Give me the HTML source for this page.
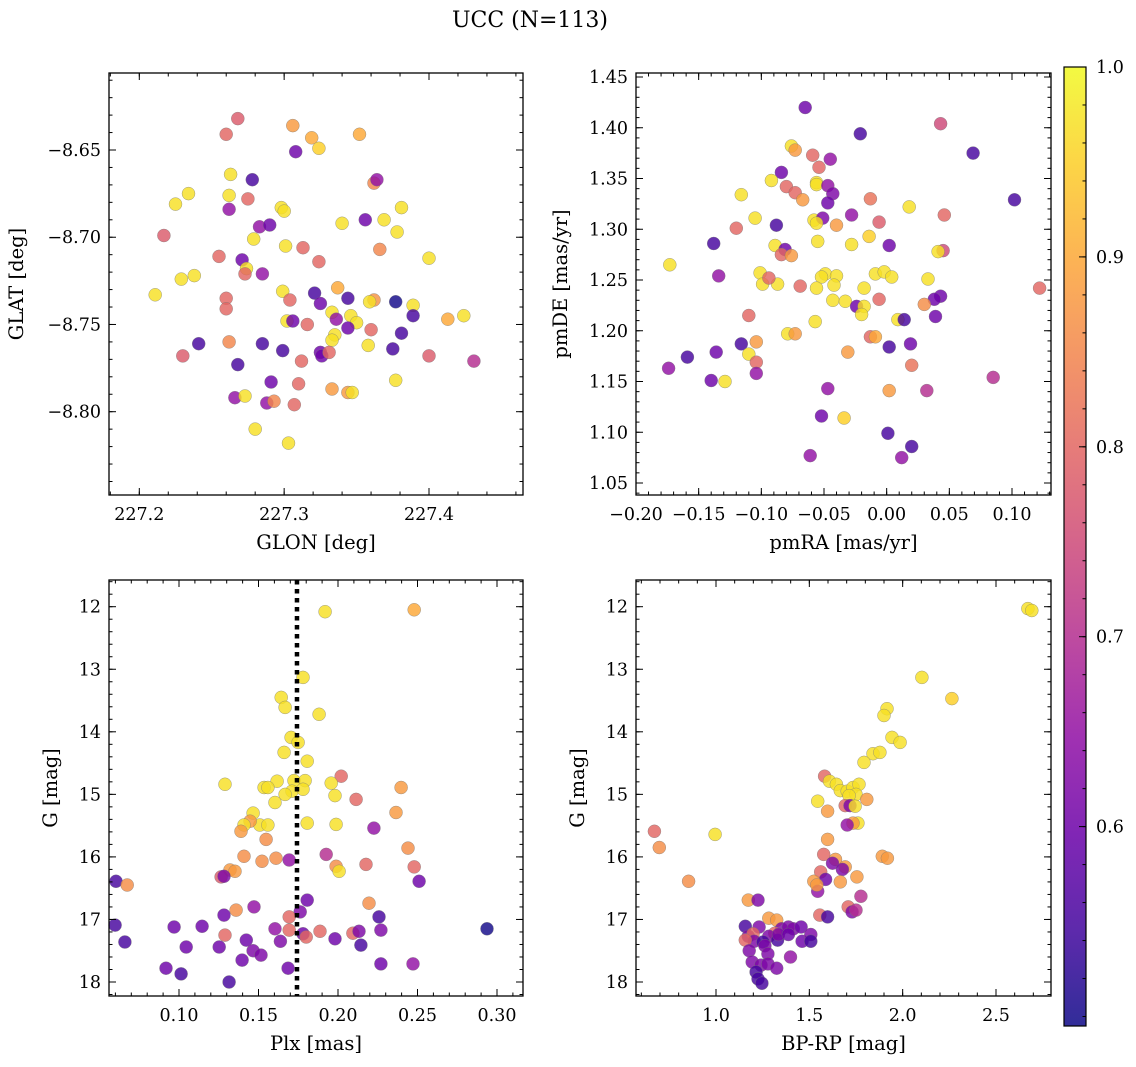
<!DOCTYPE html>
<html><head><meta charset="utf-8">
<style>
html,body{margin:0;padding:0;background:#fff;}
svg{display:block;font-family:"DejaVu Serif","Liberation Serif",serif;}
</style></head>
<body>
<svg id="fig" width="1136" height="1067" viewBox="0 0 1136 1067" xmlns="http://www.w3.org/2000/svg">
<defs>
<linearGradient id="plasma" x1="0" y1="1" x2="0" y2="0"></linearGradient>
</defs>
<text x="530" y="27" text-anchor="middle" font-size="22">UCC (N=113)</text>
<g id="root"></g>
</svg>
<script>
// ---------- DATA ----------
const glon = [227.268,227.260,227.306,227.319,227.352,227.324,227.308,227.263,227.278,227.234,227.225,227.262,227.362,227.364,227.262,227.298,227.300,227.275,227.283,227.290,227.356,227.340,227.369,227.381,227.378,227.217,227.279,227.301,227.313,227.366,227.400,227.255,227.271,227.274,227.273,227.285,227.324,227.238,227.229,227.211,227.260,227.299,227.304,227.321,227.337,227.344,227.362,227.359,227.377,227.389,227.260,227.302,227.306,227.316,227.325,227.333,227.336,227.346,227.350,227.413,227.424,227.389,227.335,227.344,227.360,227.381,227.262,227.241,227.285,227.333,227.358,227.375,227.230,227.299,227.325,227.326,227.331,227.312,227.400,227.431,227.268,227.291,227.310,227.377,227.333,227.344,227.347,227.266,227.273,227.288,227.293,227.307,227.280,227.303];
const glat = [-8.632,-8.641,-8.636,-8.643,-8.641,-8.649,-8.651,-8.664,-8.667,-8.675,-8.681,-8.676,-8.669,-8.667,-8.684,-8.683,-8.685,-8.678,-8.694,-8.693,-8.690,-8.692,-8.690,-8.683,-8.697,-8.699,-8.701,-8.705,-8.706,-8.707,-8.712,-8.711,-8.713,-8.718,-8.721,-8.721,-8.714,-8.722,-8.724,-8.733,-8.735,-8.731,-8.736,-8.732,-8.729,-8.735,-8.736,-8.737,-8.737,-8.739,-8.741,-8.748,-8.748,-8.750,-8.738,-8.743,-8.747,-8.745,-8.749,-8.747,-8.745,-8.745,-8.756,-8.752,-8.753,-8.755,-8.760,-8.761,-8.761,-8.759,-8.762,-8.764,-8.768,-8.765,-8.766,-8.768,-8.766,-8.771,-8.768,-8.771,-8.773,-8.783,-8.784,-8.782,-8.787,-8.789,-8.789,-8.792,-8.791,-8.795,-8.794,-8.796,-8.810,-8.818];
const prob1 = [0.78,0.80,0.88,0.90,0.90,0.95,0.60,0.97,0.55,0.97,0.97,0.97,0.85,0.65,0.65,0.97,0.97,0.80,0.65,0.60,0.60,0.97,0.97,0.97,0.97,0.78,0.97,0.97,0.80,0.85,0.97,0.80,0.60,0.97,0.80,0.65,0.80,0.97,0.97,0.97,0.80,0.97,0.80,0.55,0.90,0.55,0.87,0.97,0.50,0.97,0.80,0.97,0.60,0.80,0.60,0.97,0.65,0.97,0.97,0.90,0.97,0.55,0.97,0.60,0.80,0.55,0.85,0.55,0.55,0.97,0.97,0.55,0.78,0.55,0.60,0.60,0.80,0.80,0.78,0.70,0.55,0.60,0.80,0.97,0.88,0.88,0.97,0.65,0.97,0.65,0.85,0.80,0.97,0.97];

const pmra = [-0.065,-0.021,0.069,0.043,-0.076,-0.073,-0.059,-0.084,-0.054,-0.045,-0.092,-0.080,-0.116,-0.073,-0.056,-0.056,-0.047,-0.043,-0.067,-0.047,-0.013,0.102,0.018,-0.028,0.046,-0.058,-0.105,-0.051,-0.056,-0.088,-0.006,-0.120,-0.040,-0.014,-0.055,-0.028,-0.138,-0.089,-0.081,0.002,0.045,0.041,-0.084,-0.076,-0.009,-0.002,0.004,-0.101,-0.049,-0.052,-0.040,-0.173,-0.134,-0.069,-0.099,-0.087,-0.094,-0.056,-0.042,0.033,0.122,-0.018,-0.043,-0.033,-0.006,0.043,0.038,0.030,-0.024,-0.018,-0.020,-0.110,0.039,-0.057,0.009,0.014,-0.013,-0.009,-0.079,-0.073,-0.104,-0.116,0.019,0.002,-0.031,-0.110,-0.136,-0.159,-0.104,0.020,-0.104,-0.174,-0.129,-0.140,0.085,-0.047,0.002,0.032,-0.052,-0.034,0.001,0.020,-0.061,0.012];
const pmde = [1.420,1.394,1.375,1.404,1.382,1.378,1.373,1.356,1.361,1.369,1.348,1.342,1.334,1.336,1.346,1.344,1.343,1.335,1.329,1.326,1.330,1.329,1.322,1.314,1.314,1.309,1.311,1.311,1.306,1.304,1.307,1.301,1.304,1.293,1.288,1.285,1.286,1.284,1.280,1.284,1.279,1.278,1.275,1.274,1.256,1.258,1.253,1.257,1.256,1.253,1.254,1.265,1.254,1.244,1.246,1.246,1.252,1.242,1.245,1.251,1.242,1.242,1.230,1.229,1.231,1.234,1.231,1.226,1.224,1.224,1.216,1.215,1.214,1.209,1.211,1.211,1.194,1.194,1.197,1.197,1.189,1.187,1.187,1.184,1.179,1.177,1.179,1.174,1.169,1.166,1.158,1.163,1.150,1.151,1.154,1.143,1.141,1.141,1.116,1.114,1.099,1.086,1.077,1.075];
const prob2 = [0.60,0.55,0.55,0.75,0.97,0.88,0.80,0.60,0.80,0.65,0.97,0.80,0.97,0.80,0.97,0.97,0.65,0.62,0.88,0.60,0.82,0.55,0.97,0.65,0.80,0.97,0.97,0.62,0.97,0.55,0.78,0.80,0.88,0.95,0.97,0.97,0.55,0.97,0.60,0.60,0.75,0.97,0.80,0.88,0.97,0.97,0.97,0.97,0.97,0.97,0.97,0.97,0.65,0.80,0.97,0.97,0.80,0.97,0.97,0.97,0.80,0.97,0.97,0.97,0.80,0.60,0.60,0.86,0.60,0.97,0.97,0.80,0.60,0.97,0.97,0.55,0.80,0.90,0.97,0.88,0.88,0.55,0.60,0.55,0.88,0.97,0.60,0.55,0.80,0.82,0.65,0.65,0.97,0.60,0.70,0.65,0.88,0.70,0.60,0.95,0.55,0.55,0.65,0.65];

const plx = [0.1919,0.2479,0.1780,0.1643,0.1667,0.1881,0.1705,0.1749,0.1661,0.1806,0.2020,0.1289,0.1617,0.1723,0.1793,0.1957,0.2397,0.1535,0.1559,0.1711,0.1780,0.1981,0.2114,0.1667,0.1604,0.1466,0.2365,0.1509,0.1559,0.1447,0.1409,0.1390,0.1806,0.1988,0.2226,0.1548,0.1409,0.1926,0.1522,0.1610,0.2176,0.2440,0.1693,0.1321,0.1352,0.0604,0.0674,0.1265,0.1283,0.1988,0.2007,0.2479,0.2510,0.1359,0.1806,0.2195,0.1472,0.0598,0.1283,0.1762,0.1693,0.2258,0.0969,0.1145,0.1289,0.1604,0.1693,0.1780,0.1887,0.2094,0.2132,0.2270,0.2937,0.1981,0.1638,0.1423,0.1800,0.0660,0.1253,0.1045,0.1466,0.1516,0.2144,0.1397,0.2270,0.2472,0.0918,0.1013,0.1686,0.1315];
const gmag3 = [12.08,12.05,13.13,13.45,13.61,13.72,14.09,14.17,14.33,14.47,14.71,14.84,14.79,14.78,14.78,14.82,14.89,14.89,14.89,14.95,14.92,15.02,15.08,15.00,15.13,15.30,15.29,15.49,15.49,15.43,15.49,15.59,15.46,15.48,15.54,15.72,15.99,15.96,16.07,16.02,16.12,15.86,16.05,16.21,16.23,16.39,16.45,16.32,16.31,16.15,16.23,16.16,16.39,16.85,16.69,16.74,16.80,17.09,16.93,16.88,16.96,16.96,17.12,17.11,17.25,17.15,17.17,17.23,17.19,17.22,17.19,17.17,17.15,17.31,17.35,17.33,17.28,17.36,17.44,17.44,17.50,17.57,17.41,17.65,17.71,17.71,17.78,17.87,17.78,18.00];
const prob3 = [0.97,0.90,0.97,0.97,0.97,0.97,0.97,0.97,0.97,0.97,0.80,0.97,0.97,0.97,0.97,0.97,0.88,0.97,0.97,0.97,0.97,0.97,0.80,0.97,0.97,0.97,0.88,0.97,0.97,0.88,0.97,0.88,0.97,0.97,0.65,0.86,0.86,0.70,0.86,0.86,0.80,0.86,0.65,0.88,0.88,0.55,0.86,0.78,0.62,0.86,0.97,0.80,0.60,0.86,0.60,0.86,0.65,0.55,0.60,0.62,0.80,0.55,0.60,0.60,0.80,0.65,0.80,0.60,0.80,0.80,0.62,0.62,0.50,0.60,0.62,0.60,0.80,0.55,0.60,0.60,0.62,0.62,0.55,0.60,0.60,0.65,0.60,0.55,0.60,0.55];

const bprp = [2.671,2.692,2.103,2.264,1.916,1.900,1.943,1.986,1.841,1.878,1.793,0.995,0.670,0.696,0.853,1.582,1.608,1.645,1.666,1.703,1.734,1.766,1.750,1.713,1.808,1.692,1.718,1.745,1.760,1.734,1.703,1.545,1.598,1.598,1.577,1.891,1.918,1.640,1.624,1.692,1.677,1.561,1.587,1.755,1.666,1.524,1.545,1.540,1.776,1.708,1.729,1.750,1.556,1.598,1.173,1.225,1.157,1.231,1.283,1.325,1.351,1.388,1.414,1.456,1.315,1.283,1.330,1.173,1.199,1.204,1.252,1.157,1.335,1.388,1.461,1.508,1.508,1.178,1.262,1.278,1.399,1.194,1.241,1.278,1.325,1.215,1.225,1.246];
const gmag4 = [12.03,12.06,13.13,13.47,13.63,13.74,14.09,14.17,14.35,14.33,14.49,15.64,15.59,15.85,16.39,14.71,14.79,14.84,14.94,14.95,14.89,14.84,15.00,15.02,15.08,15.18,15.18,15.19,15.46,15.46,15.49,15.11,15.27,15.72,15.96,15.99,16.02,16.04,16.10,16.16,16.20,16.24,16.36,16.32,16.40,16.39,16.55,16.45,16.63,16.80,16.88,16.85,16.93,16.96,16.69,16.69,17.11,17.12,16.98,17.01,17.15,17.12,17.15,17.12,17.22,17.27,17.33,17.27,17.23,17.35,17.36,17.33,17.24,17.24,17.35,17.24,17.35,17.50,17.42,17.55,17.60,17.68,17.73,17.71,17.78,17.84,17.95,18.02];
const prob4 = [0.97,0.97,0.97,0.95,0.97,0.97,0.97,0.97,0.97,0.97,0.97,0.97,0.80,0.86,0.86,0.80,0.97,0.97,0.97,0.97,0.97,0.97,0.97,0.97,0.88,0.80,0.62,0.97,0.97,0.88,0.65,0.97,0.88,0.88,0.80,0.88,0.88,0.88,0.62,0.88,0.62,0.80,0.60,0.88,0.88,0.88,0.65,0.88,0.70,0.80,0.62,0.70,0.80,0.55,0.88,0.62,0.55,0.62,0.88,0.88,0.62,0.62,0.62,0.60,0.80,0.62,0.55,0.62,0.80,0.62,0.55,0.80,0.62,0.60,0.60,0.62,0.55,0.62,0.62,0.62,0.65,0.62,0.62,0.62,0.62,0.55,0.55,0.55];

const plxMedian = [0.1742];
const cbTicks = [0.6,0.7,0.8,0.9,1.0];

// ---------- HELPERS ----------
const NS = "http://www.w3.org/2000/svg";
const root = document.getElementById('root');
function mk(tag, attrs, parent){const e=document.createElementNS(NS,tag);for(const k in attrs)e.setAttribute(k,attrs[k]);(parent||root).appendChild(e);return e;}
function lin(v0,p0,v1,p1){const s=(p1-p0)/(v1-v0);return v=>p0+(v-v0)*s;}

const stops=[[0,'#0d0887'],[0.1,'#41049d'],[0.2,'#6a00a8'],[0.3,'#8f0da4'],[0.4,'#b12a90'],[0.5,'#cc4778'],[0.6,'#e16462'],[0.7,'#f2844b'],[0.8,'#fca636'],[0.9,'#fcce25'],[1,'#f0f921']];
function hex(h){return [1,3,5].map(i=>parseInt(h.substr(i,2),16));}
function plasma(t){t=Math.max(0,Math.min(1,t));for(let i=1;i<stops.length;i++){if(t<=stops[i][0]){const a=stops[i-1],b=stops[i];const f=(t-a[0])/(b[0]-a[0]);const ca=hex(a[1]),cb=hex(b[1]);return 'rgb('+ca.map((c,j)=>Math.round(c+(cb[j]-c)*f)).join(',')+')';}}return stops[10][1];}
const PMIN=0.495,PMAX=1.0;
const cnorm=p=>(p-PMIN)/(PMAX-PMIN);

function ticks(a,b,step){const r=[];const n0=Math.ceil(a/step-1e-6),n1=Math.floor(b/step+1e-6);for(let n=n0;n<=n1;n++)r.push(+(n*step).toFixed(6));return r;}
function fmt(v,d){let s=v.toFixed(d);if(v<0||s.startsWith('-'))s='\u2212'+s.replace('-','');return s;}
const FS=17.5, LFS=19.5;

function panel(cfg){
  const g=mk('g',{});
  
  
  const {L,R,T,B,sx,sy}=cfg;
  const xmin=cfg.xinv(L),xmax=cfg.xinv(R);
  const ymin=Math.min(cfg.yinv(T),cfg.yinv(B)),ymax=Math.max(cfg.yinv(T),cfg.yinv(B));
  const pg=mk('g',{},g);
  
  
  for(let i=0;i<cfg.xs.length;i++){
    const c=mk('circle',{cx:sx(cfg.xs[i]).toFixed(1),cy:sy(cfg.ys[i]).toFixed(1),r:6.5,fill:plasma(cnorm(cfg.ps[i])),'fill-opacity':0.82,stroke:'#777','stroke-width':0.5,'stroke-opacity':0.7},pg);
    
    
  }
  if(cfg.extra)cfg.extra(g);
  const fr=mk('rect',{x:L,y:T,width:R-L,height:B-T,fill:'none',stroke:'#000','stroke-width':1.3},g);
  
  
  const xt=mk('g',{stroke:'#000','stroke-width':1},g);
  for(const v of ticks(xmin,xmax,cfg.xminor)){const x=sx(v);mk('line',{x1:x,x2:x,y1:B,y2:B-3.5},xt);mk('line',{x1:x,x2:x,y1:T,y2:T+3.5},xt);}
  for(const v of ticks(xmin,xmax,cfg.xmajor)){const x=sx(v);mk('line',{x1:x,x2:x,y1:B,y2:B-7},xt);mk('line',{x1:x,x2:x,y1:T,y2:T+7},xt);
    const t=mk('text',{x:x,y:B+25,'text-anchor':'middle','font-size':FS,stroke:'none'},g);t.textContent=fmt(v,cfg.xdec);
    
    }
  for(const v of ticks(ymin,ymax,cfg.yminor)){const y=sy(v);mk('line',{x1:L,x2:L+3.5,y1:y,y2:y},xt);mk('line',{x1:R,x2:R-3.5,y1:y,y2:y},xt);}
  for(const v of ticks(ymin,ymax,cfg.ymajor)){const y=sy(v);mk('line',{x1:L,x2:L+7,y1:y,y2:y},xt);mk('line',{x1:R,x2:R-7,y1:y,y2:y},xt);
    const t=mk('text',{x:L-8,y:y+6,'text-anchor':'end','font-size':FS},g);t.textContent=fmt(v,cfg.ydec);
    
    }
  const xl=mk('text',{x:(L+R)/2,y:B+54,'text-anchor':'middle','font-size':LFS},g);xl.textContent=cfg.xlabel;
  
  
  const yx=cfg.ylabelX, ym=(T+B)/2;
  const yl=mk('text',{x:yx,y:ym,'text-anchor':'middle','font-size':LFS,transform:'rotate(-90 '+yx+' '+ym+')'},g);yl.textContent=cfg.ylabel;
  
  
}

function mkPanel(name,L,R,T,B,xa,ya,xs,ys,ps,o){
  const sx=lin(xa[0],xa[1],xa[2],xa[3]), sy=lin(ya[0],ya[1],ya[2],ya[3]);
  const xinv=lin(xa[1],xa[0],xa[3],xa[2]), yinv=lin(ya[1],ya[0],ya[3],ya[2]);
  panel(Object.assign({name,L,R,T,B,sx,sy,xinv,yinv,xs,ys,ps},o(sx,sy)));
}

mkPanel('glon-glat-panel',109,523,73,495,[227.2,139.3,227.4,429],[-8.65,150,-8.80,411.7],glon,glat,prob1,
 ()=>({xmajor:0.1,xminor:0.02,ymajor:0.05,yminor:0.01,xdec:1,ydec:2,xlabel:'GLON [deg]',ylabel:'GLAT [deg]',ylabelX:23}));
mkPanel('pm-panel',636,1051,73,495,[-0.2,636,0.1,1012],[1.45,77,1.05,483],pmra,pmde,prob2,
 ()=>({xmajor:0.05,xminor:0.01,ymajor:0.05,yminor:0.01,xdec:2,ydec:2,xlabel:'pmRA [mas/yr]',ylabel:'pmDE [mas/yr]',ylabelX:567}));
mkPanel('plx-g-panel',109,523,580,996,[0.10,179,0.30,497],[12,606.7,18,982],plx,gmag3,prob3,
 (sx,sy)=>({xmajor:0.05,xminor:0.01,ymajor:1,yminor:0.2,xdec:2,ydec:0,xlabel:'Plx [mas]',ylabel:'G [mag]',ylabelX:57,
  extra:(g)=>{const x=sx(plxMedian[0]);const l=mk('line',{x1:x,x2:x,y1:580,y2:996,stroke:'#000','stroke-width':4.5,'stroke-dasharray':'4.5 4.5'},g);
   
   }}));
mkPanel('cmd-panel',636,1051,580,996,[1.0,716,2.5,996],[12,606.7,18,982],bprp,gmag4,prob4,
 ()=>({xmajor:0.5,xminor:0.1,ymajor:1,yminor:0.2,xdec:1,ydec:0,xlabel:'BP-RP [mag]',ylabel:'G [mag]',ylabelX:584}));

const grad=document.getElementById('plasma');
for(let i=0;i<=20;i++){const t=i/20;const s=document.createElementNS(NS,'stop');s.setAttribute('offset',t);s.setAttribute('stop-color',plasma(t));s.setAttribute('stop-opacity',0.85);grad.appendChild(s);}
const cbg=mk('g',{});


const CL=1064,CR=1086,CT=67,CB=1026;
const cy=lin(1.0,CT,PMIN,CB);
mk('rect',{x:CL,y:CT,width:CR-CL,height:CB-CT,fill:'url(#plasma)'},cbg);
mk('rect',{x:CL,y:CT,width:CR-CL,height:CB-CT,fill:'none',stroke:'#000','stroke-width':1.2},cbg);
for(const v of ticks(PMIN,1.0,0.02)){const y=cy(v);mk('line',{x1:CR,x2:CR-3.5,y1:y,y2:y,stroke:'#000','stroke-width':1},cbg);}
for(const v of cbTicks){const y=cy(v);mk('line',{x1:CR,x2:CR-7,y1:y,y2:y,stroke:'#000','stroke-width':1},cbg);
  const t=mk('text',{x:CR+10,y:y+6,'font-size':FS},cbg);t.textContent=v.toFixed(1);
  
  }
</script>
</body></html>
